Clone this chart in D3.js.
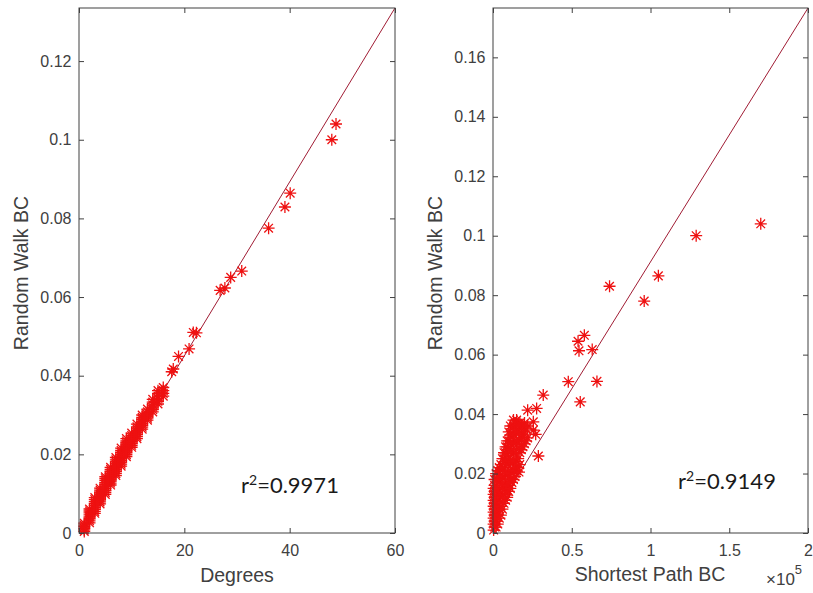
<!DOCTYPE html>
<html>
<head>
<meta charset="utf-8">
<script src="https://cdn.jsdelivr.net/npm/d3@7"></script>
<style>
  body { margin: 0; background: #fff; }
  svg { display: block; }
  .tick text { font-family: "Liberation Sans", Arial, Helvetica, sans-serif; font-size: 16px; fill: #404040; }
  .tick line { stroke: #404040; }
  .lbl { font-family: "Liberation Sans", Arial, Helvetica, sans-serif; font-size: 19.5px; fill: #404040; }
  .rsq { font-family: Lato, "Open Sans", sans-serif; font-size: 22px; fill: #1a1a1a; }
</style>
</head>
<body>
<div id="chart"></div>
<script>
// ---- data: left panel, degree vs random walk BC ----
// dense part, one list of RW BC values per degree
const degCluster = [
  [1, [0.0004,0.0008,0.0012,0.0016,0.0020,0.0025]],
  [2, [0.0026,0.0031,0.0036,0.0041,0.0046,0.0051,0.0056,0.0061]],
  [3, [0.0050,0.0055,0.0060,0.0065,0.0070,0.0075,0.0080,0.0085,0.0090]],
  [4, [0.0074,0.0079,0.0084,0.0089,0.0094,0.0099,0.0104,0.0109,0.0114]],
  [5, [0.0098,0.0103,0.0108,0.0113,0.0118,0.0123,0.0128,0.0133,0.0138,0.0143]],
  [6, [0.0122,0.0127,0.0132,0.0137,0.0142,0.0147,0.0152,0.0157,0.0162,0.0167]],
  [7, [0.0146,0.0151,0.0156,0.0161,0.0166,0.0171,0.0176,0.0181,0.0186,0.0192]],
  [8, [0.0170,0.0175,0.0180,0.0185,0.0190,0.0195,0.0200,0.0205,0.0210,0.0216]],
  [9, [0.0194,0.0199,0.0204,0.0209,0.0214,0.0219,0.0224,0.0229,0.0234,0.0240]],
  [10, [0.0218,0.0223,0.0228,0.0233,0.0238,0.0243,0.0248,0.0254]],
  [11, [0.0240,0.0245,0.0250,0.0255,0.0260,0.0265,0.0270,0.0277]],
  [12, [0.0264,0.0269,0.0274,0.0279,0.0284,0.0289,0.0294,0.0300]],
  [13, [0.0287,0.0292,0.0297,0.0302,0.0308,0.0315]],
  [14, [0.0308,0.0314,0.0320,0.0326,0.0333,0.0340]],
  [15, [0.0328,0.0335,0.0342,0.0348,0.0355,0.0362]],
  [16, [0.0348,0.0355,0.0362,0.0370]]
];
const degOutliers = [
  [48.8,0.104],[48.0,0.100],[40.1,0.0864],[39.1,0.0829],[36.0,0.0775],
  [30.9,0.0666],[28.8,0.065],[27.7,0.0623],[26.8,0.0617],[22.3,0.0509],
  [21.7,0.051],[20.9,0.0468],[18.9,0.0449],[17.9,0.0417],[17.6,0.0410]
];
const degFit = [0.0008, 0.002212];      // intercept, slope
const degXTicks = [0, 20, 40, 60];
const degYTicks = [0, 0.02, 0.04, 0.06, 0.08, 0.1, 0.12];

// ---- data: right panel, shortest path BC vs random walk BC ----
// dense part, one list of RW BC values per shortest path BC column
const spCluster = [
  [400, [0.001,0.003,0.005,0.007,0.009,0.011,0.013,0.015]],
  [1000, [0.002,0.004,0.006,0.008,0.010,0.012,0.014,0.016,0.018]],
  [2000, [0.002,0.004,0.006,0.008,0.010,0.012,0.014,0.016,0.018,0.020]],
  [3000, [0.003,0.006,0.009,0.012,0.015,0.018,0.021]],
  [4000, [0.005,0.008,0.011,0.014,0.017,0.020,0.022]],
  [5000, [0.006,0.009,0.012,0.015,0.018,0.021,0.023]],
  [6000, [0.008,0.012,0.016,0.019,0.022,0.025]],
  [7000, [0.010,0.013,0.016,0.019,0.022,0.025,0.027]],
  [8000, [0.011,0.014,0.016,0.020,0.024,0.027,0.029]],
  [9000, [0.012,0.014,0.017,0.020,0.023,0.026,0.029,0.031]],
  [10000, [0.014,0.016,0.020,0.024,0.028,0.031,0.034]],
  [11000, [0.015,0.018,0.021,0.024,0.027,0.030,0.033,0.036]],
  [12000, [0.017,0.020,0.024,0.028,0.032,0.035]],
  [13000, [0.018,0.021,0.024,0.027,0.030,0.033,0.036,0.038]],
  [14000, [0.019,0.022,0.027,0.031,0.034,0.037]],
  [15000, [0.021,0.024,0.028,0.031,0.035,0.038]],
  [16000, [0.022,0.025,0.030,0.034,0.037]],
  [16500, [0.0205]],
  [17000, [0.023,0.027,0.031,0.034,0.037]],
  [18000, [0.028,0.032,0.036]],
  [19000, [0.029,0.033,0.036]],
  [20000, [0.030,0.034,0.037]],
  [21000, [0.031,0.035]],
  [22000, [0.032,0.036]]
];
const spOutliers = [
  [170000,0.104],[129000,0.100],[105000,0.0865],[96000,0.078],[74000,0.083],
  [58000,0.0665],[54000,0.0645],[54600,0.0613],[63000,0.0617],[47800,0.0509],
  [66000,0.051],[55400,0.0441],[31900,0.0464],[27700,0.0419],[22000,0.0413],
  [25600,0.0374],[28800,0.0259],[27100,0.0332],[25600,0.0346]
];
const spFit = [0.0058, 0.0854e-5];      // intercept, slope
const spXTicks = [0, 50000, 100000, 150000, 200000];
const spYTicks = [0, 0.02, 0.04, 0.06, 0.08, 0.1, 0.12, 0.14, 0.16];

const W = 813, H = 593;
const svg = d3.select("#chart").append("svg")
    .attr("width", W)
    .attr("height", H);

const axisColor = "#404040";
const markColor = "#ee1111";
const lineColor = "#a01c34";
const markRad = 6;

function fmt(v) { return String(+v.toFixed(3)); }

// expand [x, [y, y, ...]] columns into points
function flatten(cols) {
    let out = [];
    cols.forEach(c => c[1].forEach(v => out.push([c[0], v])));
    return out;
}

function drawPanel(opt) {
    let x = d3.scaleLinear().domain(opt.xDomain).range([opt.left, opt.right]);
    let y = d3.scaleLinear().domain(opt.yDomain).range([opt.bottom, opt.top]);

    let g = svg.append("g");

    // clip for the fit line
    g.append("clipPath").attr("id", opt.id + "-clip")
        .append("rect")
        .attr("x", opt.left).attr("y", opt.top)
        .attr("width", opt.right - opt.left).attr("height", opt.bottom - opt.top);

    // fit line
    let x0 = opt.xDomain[0], x1 = opt.xDomain[1];
    g.append("line")
        .attr("clip-path", "url(#" + opt.id + "-clip)")
        .attr("x1", x(x0)).attr("y1", y(opt.fit[0] + opt.fit[1] * x0))
        .attr("x2", x(x1)).attr("y2", y(opt.fit[0] + opt.fit[1] * x1))
        .attr("stroke", lineColor)
        .attr("stroke-width", 1);

    // asterisk markers
    let pts = flatten(opt.cluster).concat(opt.outliers);
    let d = markRad, e = markRad * 0.72;
    let star = "M" + (-d) + ",0H" + d + "M0," + (-d) + "V" + d +
        "M" + (-e) + "," + (-e) + "L" + e + "," + e +
        "M" + (-e) + "," + e + "L" + e + "," + (-e);
    g.append("g").selectAll("path")
        .data(pts)
        .enter()
        .append("path")
        .attr("transform", p => "translate(" + x(p[0]) + "," + y(p[1]) + ")")
        .attr("d", star)
        .attr("fill", "none")
        .attr("stroke", markColor)
        .attr("stroke-width", 1.3);

    // axes with inward ticks on all four sides
    let bottomAx = g.append("g")
        .attr("transform", "translate(0," + opt.bottom + ")")
        .call(d3.axisBottom(x).tickValues(opt.xTicks).tickSize(-5).tickPadding(12)
            .tickFormat(opt.xFormat));
    let leftAx = g.append("g")
        .attr("transform", "translate(" + opt.left + ",0)")
        .call(d3.axisLeft(y).tickValues(opt.yTicks).tickSize(-5).tickPadding(7.5).tickFormat(fmt));
    let topAx = g.append("g")
        .attr("transform", "translate(0," + opt.top + ")")
        .call(d3.axisTop(x).tickValues(opt.xTicks).tickSize(-5).tickFormat(""));
    let rightAx = g.append("g")
        .attr("transform", "translate(" + opt.right + ",0)")
        .call(d3.axisRight(y).tickValues(opt.yTicks).tickSize(-5).tickFormat(""));
    [bottomAx, leftAx, topAx, rightAx].forEach(a => {
        a.select(".domain").remove();
        a.attr("font-family", null).attr("font-size", null);
    });

    g.append("rect")
        .attr("x", opt.left).attr("y", opt.top)
        .attr("width", opt.right - opt.left).attr("height", opt.bottom - opt.top)
        .attr("fill", "none")
        .attr("stroke", axisColor)
        .attr("stroke-width", 1);

    // labels
    g.append("text").attr("class", "lbl")
        .attr("x", opt.xLabelPos[0]).attr("y", opt.xLabelPos[1])
        .attr("text-anchor", "middle")
        .text(opt.xLabel);
    g.append("text").attr("class", "lbl")
        .attr("transform", "translate(" + opt.yLabelPos[0] + "," + opt.yLabelPos[1] + ") rotate(-90)")
        .attr("text-anchor", "middle")
        .text(opt.yLabel);

    let r = g.append("text").attr("class", "rsq")
        .attr("x", opt.rsqPos[0]).attr("y", opt.rsqPos[1]);
    r.append("tspan").text("r");
    r.append("tspan").attr("font-size", "14px").attr("dy", -8).text("2");
    r.append("tspan").attr("dy", 8).text("=" + opt.rsq);

    return g;
}

drawPanel({
    id: "deg",
    left: 79, right: 395, top: 8, bottom: 533,
    xDomain: [0, 60], yDomain: [0, 0.1335],
    cluster: degCluster, outliers: degOutliers, fit: degFit,
    xTicks: degXTicks, yTicks: degYTicks, xFormat: fmt,
    xLabel: "Degrees", yLabel: "Random Walk BC",
    xLabelPos: [237, 582], yLabelPos: [28, 273],
    rsq: "0.9971", rsqPos: [241, 493]
});

let right = drawPanel({
    id: "sp",
    left: 493, right: 808, top: 8, bottom: 533,
    xDomain: [0, 200000], yDomain: [0, 0.1766],
    cluster: spCluster, outliers: spOutliers, fit: spFit,
    xTicks: spXTicks, yTicks: spYTicks, xFormat: v => fmt(v / 1e5),
    xLabel: "Shortest Path BC", yLabel: "Random Walk BC",
    xLabelPos: [650, 581], yLabelPos: [442, 273],
    rsq: "0.9149", rsqPos: [678, 489]
});

// exponent marker under right x axis
let ex = right.append("text")
    .attr("x", 766).attr("y", 585)
    .attr("font-family", "Liberation Sans, Arial, sans-serif")
    .attr("font-size", "17px")
    .attr("fill", axisColor);
ex.append("tspan").text("\u00d710");
ex.append("tspan").attr("font-size", "13px").attr("dy", -11).text("5");
</script>
</body>
</html>
